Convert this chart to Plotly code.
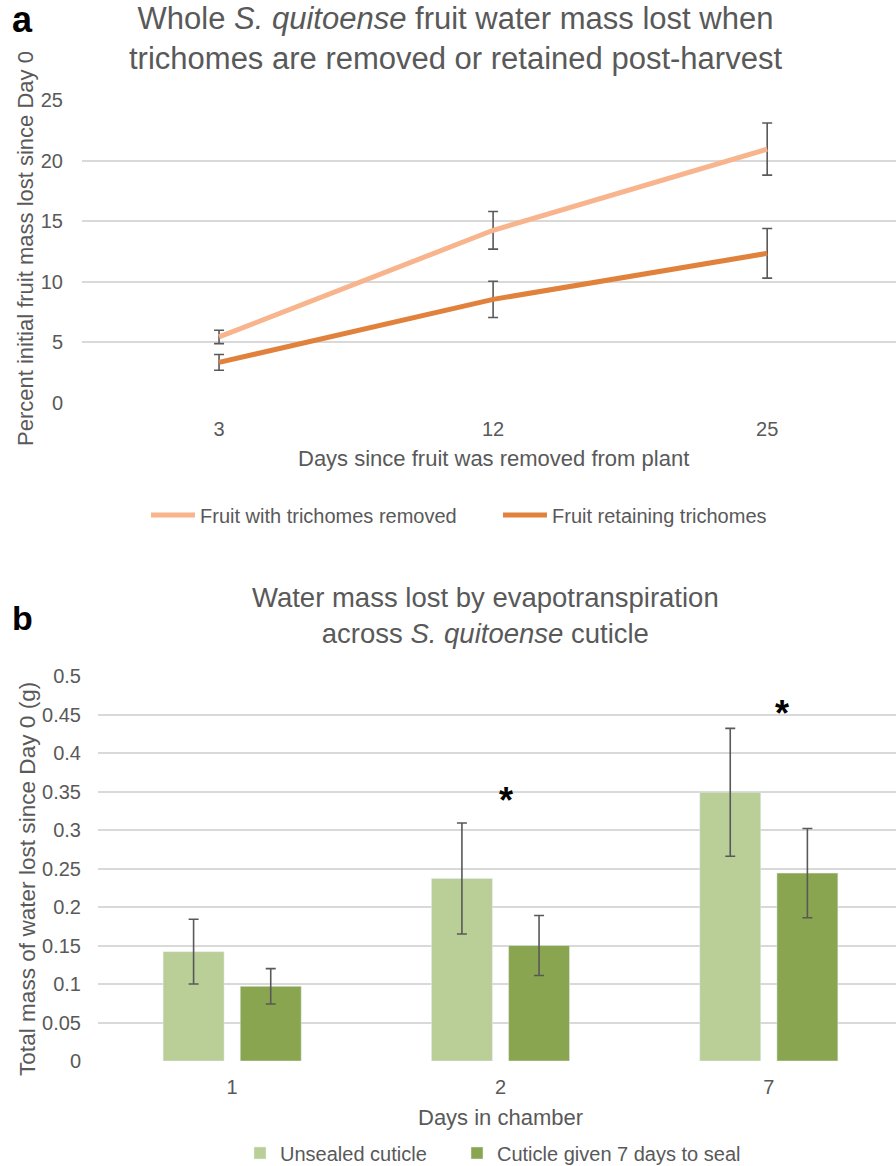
import plotly.graph_objects as go

W, H = 896, 1166
FONT = "Liberation Sans, Arial, sans-serif"
GRAY = "#595959"
GRID = "#D9D9D9"

# ---- Panel a data ----
days_a = ["3", "12", "25"]
removed = [5.45, 14.25, 20.95]
removed_err = [0.55, 1.55, 2.15]
retained = [3.35, 8.55, 12.35]
retained_err = [0.65, 1.5, 2.05]

# ---- Panel b data ----
days_b = ["1", "2", "7"]
unsealed = [0.142, 0.237, 0.349]
unsealed_err = [0.042, 0.072, 0.083]
sealed = [0.097, 0.150, 0.244]
sealed_err = [0.023, 0.039, 0.058]
star_cats = [1, 2]
star_y = [0.343, 0.456]
star_dx = [0.02, 0.05]


def px(x):
    return x / W


def py(y):
    return 1 - y / H


fig = go.Figure()

err_style = dict(type="data", color=GRAY, thickness=1.6, width=5, visible=True)

fig.add_trace(go.Scatter(x=days_a, y=removed, mode="lines", name="Fruit with trichomes removed",
                         line=dict(color="#F8B48C", width=5),
                         error_y=dict(array=removed_err, **err_style),
                         xaxis="x", yaxis="y", legend="legend"))
fig.add_trace(go.Scatter(x=days_a, y=retained, mode="lines", name="Fruit retaining trichomes",
                         line=dict(color="#E0823C", width=5),
                         error_y=dict(array=retained_err, **err_style),
                         xaxis="x", yaxis="y", legend="legend2"))

fig.add_trace(go.Bar(x=days_b, y=unsealed, name="Unsealed cuticle", marker_color="#BACE98",
                     error_y=dict(array=unsealed_err, **err_style),
                     xaxis="x2", yaxis="y2", legend="legend3"))
fig.add_trace(go.Bar(x=days_b, y=sealed, name="Cuticle given 7 days to seal", marker_color="#8AA54F",
                     error_y=dict(array=sealed_err, **err_style),
                     xaxis="x2", yaxis="y2", legend="legend4"))

tickfont = dict(family=FONT, size=20, color=GRAY)

axis_common = dict(showline=False, zeroline=False, ticks="", tickfont=tickfont,
                   fixedrange=True, automargin=False)

leg_font = dict(family=FONT, size=20, color=GRAY)


def leg(xpx, ypx, iw=30):
    return dict(orientation="h", x=px(xpx), y=py(ypx), xanchor="left", yanchor="middle",
                font=leg_font, itemwidth=iw, bgcolor="rgba(0,0,0,0)")


fig.update_layout(
    width=W, height=H,
    margin=dict(l=0, r=0, t=0, b=0, autoexpand=False),
    paper_bgcolor="white", plot_bgcolor="white",
    font=dict(family=FONT, color=GRAY),
    showlegend=True,
    barmode="group", bargap=0.425, bargroupgap=0.21,
    xaxis=dict(domain=[px(82), 1], anchor="y", type="category", range=[-0.5, 2.47],
               showgrid=False, ticklabelstandoff=12, **axis_common),
    yaxis=dict(domain=[py(403), py(100)], anchor="x", range=[0, 25], dtick=5,
               showgrid=True, gridcolor=GRID, gridwidth=2, ticklabelstandoff=18,
               **axis_common),
    xaxis2=dict(domain=[px(98), 1], anchor="y2", type="category", range=[-0.5, 2.474],
                showgrid=False, ticklabelstandoff=12, **axis_common),
    yaxis2=dict(domain=[py(1061), py(676)], anchor="x2", range=[0, 0.5], dtick=0.05,
                showgrid=True, gridcolor=GRID, gridwidth=2,
                ticklabelstandoff=16, **axis_common),
    legend=leg(146, 515, 44),
    legend2=leg(498, 515, 44),
    legend3=leg(240, 1153),
    legend4=leg(457, 1153),
)

ann = []
ann.append(dict(text="Whole <i>S. quitoense</i> fruit water mass lost when<br>trichomes are removed or retained post-harvest",
                x=px(455), y=py(38), xref="paper", yref="paper", xanchor="center", yanchor="middle",
                showarrow=False, font=dict(family=FONT, size=31, color=GRAY)))
ann.append(dict(text="<b>a</b>", x=px(10), y=py(20), xref="paper", yref="paper", xanchor="left",
                yanchor="middle", showarrow=False, font=dict(family=FONT, size=36, color="black")))
ann.append(dict(text="Percent initial fruit mass lost since Day 0", x=px(25), y=py(249), xref="paper",
                yref="paper", textangle=-90, xanchor="center", yanchor="middle", showarrow=False,
                font=dict(family=FONT, size=22, color=GRAY)))
ann.append(dict(text="Days since fruit was removed from plant", x=px(493), y=py(458), xref="paper",
                yref="paper", xanchor="center", yanchor="middle", showarrow=False,
                font=dict(family=FONT, size=22, color=GRAY)))

ann.append(dict(text="Water mass lost by evapotranspiration<br>across <i>S. quitoense</i> cuticle",
                x=px(485), y=py(615), xref="paper", yref="paper", xanchor="center", yanchor="middle",
                showarrow=False, font=dict(family=FONT, size=27.5, color=GRAY)))
ann.append(dict(text="<b>b</b>", x=px(10), y=py(618), xref="paper", yref="paper", xanchor="left",
                yanchor="middle", showarrow=False, font=dict(family=FONT, size=34, color="black")))
ann.append(dict(text="Total mass of water lost since Day 0 (g)", x=px(27), y=py(879), xref="paper",
                yref="paper", textangle=-90, xanchor="center", yanchor="middle", showarrow=False,
                font=dict(family=FONT, size=22.6, color=GRAY)))
ann.append(dict(text="Days in chamber", x=px(500), y=py(1117), xref="paper",
                yref="paper", xanchor="center", yanchor="middle", showarrow=False,
                font=dict(family=FONT, size=22, color=GRAY)))
for c, yv, dx in zip(star_cats, star_y, star_dx):
    ann.append(dict(text="<b>*</b>", x=c + dx, y=yv, xref="x2", yref="y2", xanchor="center",
                    yanchor="middle", showarrow=False, yshift=-4,
                    font=dict(family=FONT, size=36, color="black")))

fig.update_layout(annotations=ann)

fig.write_html("out.html")
